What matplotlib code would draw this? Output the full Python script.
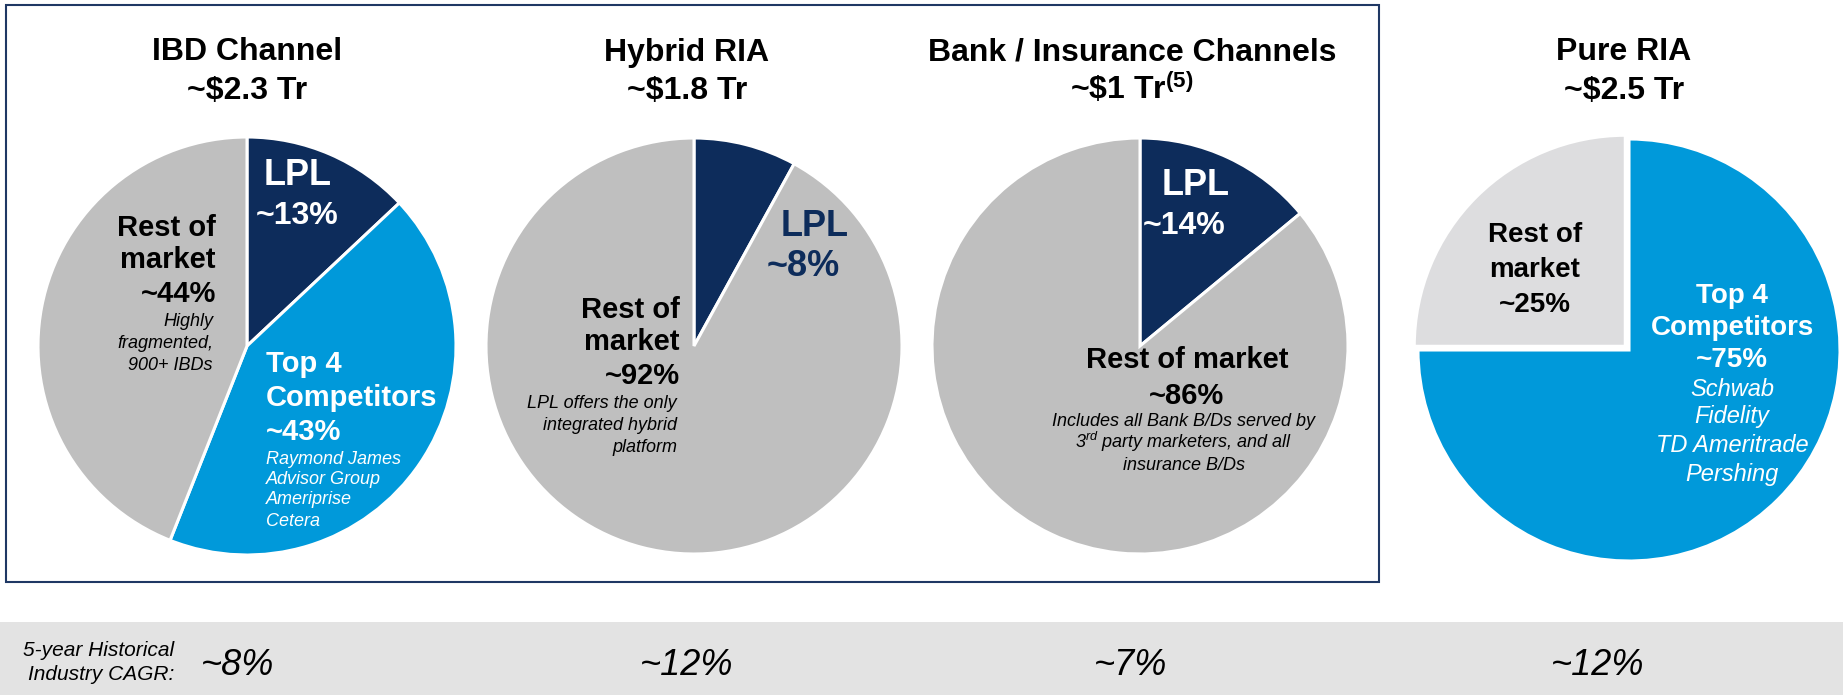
import matplotlib
matplotlib.use('Agg')
import matplotlib.pyplot as plt
from matplotlib.patches import Rectangle

plt.rcParams['font.family'] = ['Liberation Sans', 'DejaVu Sans']
plt.rcParams['mathtext.fontset'] = 'custom'
plt.rcParams['mathtext.rm'] = 'Liberation Sans'
plt.rcParams['mathtext.it'] = 'Liberation Sans:italic'
plt.rcParams['mathtext.bf'] = 'Liberation Sans:bold'

# data
channels = ['IBD Channel', 'Hybrid RIA', 'Bank / Insurance Channels', 'Pure RIA']
channel_aum = ['~$2.3 Tr', '~$1.8 Tr', '~\\$1 Tr$^{\\mathbf{(5)}}$', '~$2.5 Tr']
ibd_share = [13, 43, 44]          # LPL, Top 4, Rest
hybrid_share = [8, 92]            # LPL, Rest
bank_share = [14, 86]             # LPL, Rest
pure_share = [75, 25]             # Top 4, Rest
cagr = ['~8%', '~12%', '~7%', '~12%']

NAVY = '#0D2C5B'
BLUE = '#0099DA'
GRAY = '#BFBFBF'
LIGHT = '#DDDDDF'

W, H = 1843, 695
fig = plt.figure(figsize=(W / 100, H / 100), dpi=100)

def pie_axes(cx, cy, r):
    rb = r * 1.03
    ax = fig.add_axes([(cx - rb) / W, 1 - (cy + rb) / H, 2 * rb / W, 2 * rb / H])
    return ax

def fix(ax):
    # pie() resets the limits, so set them afterwards
    ax.set_xlim(-1.03, 1.03)
    ax.set_ylim(-1.03, 1.03)
    ax.axis('off')

wp = dict(edgecolor='white', linewidth=2.2)

ax1 = pie_axes(247, 346, 209)
ax1.pie(ibd_share, colors=[NAVY, BLUE, GRAY], startangle=90, counterclock=False,
        radius=1, wedgeprops=wp)
fix(ax1)
ax2 = pie_axes(694, 346, 208)
ax2.pie(hybrid_share, colors=[NAVY, GRAY], startangle=90, counterclock=False,
        radius=1, wedgeprops=wp)
fix(ax2)
ax3 = pie_axes(1140, 346, 208)
ax3.pie(bank_share, colors=[NAVY, GRAY], startangle=90, counterclock=False,
        radius=1, wedgeprops=wp)
fix(ax3)
ax4 = pie_axes(1629, 350, 211)
ax4.pie(pure_share, colors=[BLUE, LIGHT], startangle=90, counterclock=False,
        radius=1, explode=[0, 0.025], wedgeprops=wp)
fix(ax4)

# overlay in pixel coords for texts and frame
bg = fig.add_axes([0, 0, 1, 1], zorder=10)
bg.set_xlim(0, W)
bg.set_ylim(H, 0)
bg.axis('off')
bg.patch.set_alpha(0)

bg.add_patch(Rectangle((6, 5), 1373, 577, fill=False, edgecolor='#1F3864', lw=1.5))
bg.add_patch(Rectangle((0, 622), W, 73, facecolor='#E3E3E3', edgecolor='none'))

def put(x, y, s, size, color='black', ha='center', bold=True, italic=False):
    # y is the visual middle of the capitals; place the baseline below it
    base = y + 0.36 * size * 100 / 72
    bg.text(x, base, s, ha=ha, va='baseline', fontsize=size, color=color,
            fontweight='bold' if bold else 'normal',
            fontstyle='italic' if italic else 'normal')

def block(x, ys, lines, size, color='black', ha='center', bold=True):
    for y, s in zip(ys, lines):
        put(x, y, s, size, color, ha, bold, italic=not bold)

title_x = [247, 687, 1132, 1624]
for i in range(4):
    put(title_x[i], 49, channels[i], 23)
    put(title_x[i], 87, channel_aum[i], 23)

# IBD
block(298, [172], ['LPL'], 26, 'white')
block(297, [212], ['~13%'], 23, 'white')
block(216, [225, 258, 292], ['Rest of', 'market', '~44%'], 21, ha='right')
block(213, [320, 342, 364], ['Highly', 'fragmented,', '900+ IBDs'], 13, ha='right', bold=False)
block(266, [362, 396, 430], ['Top 4', 'Competitors', '~43%'], 21, 'white', ha='left')
block(266, [457, 477, 498, 519], ['Raymond James', 'Advisor Group', 'Ameriprise', 'Cetera'],
      13, 'white', ha='left', bold=False)

# Hybrid RIA
block(815, [223], ['LPL'], 26, NAVY)
block(803, [263], ['~8%'], 26, NAVY)
block(680, [307, 340, 373], ['Rest of', 'market', '~92%'], 21, ha='right')
block(677, [401, 423, 445], ['LPL offers the only', 'integrated hybrid', 'platform'],
      13, ha='right', bold=False)

# Bank / Insurance
block(1196, [182], ['LPL'], 26, 'white')
block(1184, [223], ['~14%'], 23, 'white')
block(1187, [358, 393], ['Rest of market', '~86%'], 21)
block(1184, [420, 442, 463], ['Includes all Bank B/Ds served by',
                             '3$^{\\mathit{rd}}$ party marketers, and all',
                             'insurance B/Ds'], 13, bold=False)

# Pure RIA
block(1535, [232, 267, 302], ['Rest of', 'market', '~25%'], 20)
block(1732, [293, 325, 357], ['Top 4', 'Competitors', '~75%'], 20, 'white')
block(1732, [387, 415, 443, 472], ['Schwab', 'Fidelity', 'TD Ameritrade', 'Pershing'],
      17, 'white', bold=False)

# CAGR band
block(174, [648, 673], ['5-year Historical', 'Industry CAGR:'], 15, ha='right', bold=False)
cagr_x = [238, 687, 1131, 1598]
for x, s in zip(cagr_x, cagr):
    put(x, 662, s, 26, bold=False, italic=True)

fig.savefig('out.png', dpi=100)
